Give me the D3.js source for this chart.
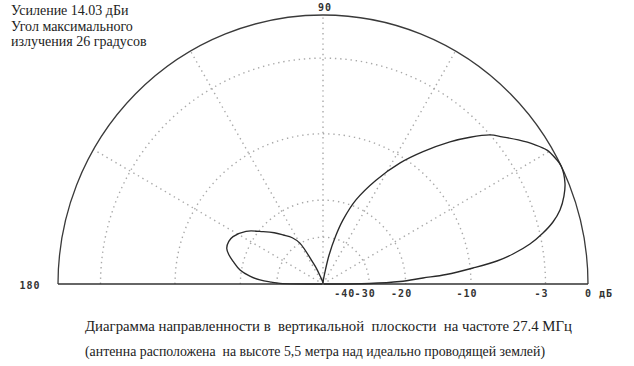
<!DOCTYPE html>
<html>
<head>
<meta charset="utf-8">
<script src="https://cdn.jsdelivr.net/npm/d3@7/dist/d3.min.js"></script>
<style>
  html, body { margin: 0; padding: 0; background: #fff; }
  svg { display: block; }
  .ser { font-family: "Liberation Serif", "Times New Roman", serif; fill: #222; white-space: pre; }
  .mono { font-family: "DejaVu Sans Mono", monospace; font-weight: bold; fill: #333; }
</style>
</head>
<body>
<svg id="chart" width="634" height="366"></svg>
<script>
// ---------- data ----------
// elevation angle, degrees
const angles = [0, 0.6, 1.83, 3.38, 4.35, 6.0, 7.42, 8.84, 10.78, 12.86, 14.87, 17.1, 19.78, 22.35, 26, 28, 30.5, 33, 36, 39, 41.3, 44.5, 47.8, 52.5, 57.1, 62.6, 68.3, 72.4, 75, 78, 80, 84,
                90,
                100, 110, 113, 115.4, 119.8, 124, 129.4, 134, 139.2, 146, 152.6, 156, 159.9, 163, 166.2, 170.6, 174, 176.4, 178, 179.1, 180];
// relative gain, dB
const gainDb = [-99, -30, -21.2, -16.7, -13.1, -9.67, -7.08, -5.51, -3.94, -2.76, -1.85, -1.14, -0.59, -0.22, 0, -0.1, -0.33, -0.85, -1.6, -2.4, -3.0, -4.3, -5.8, -8.2, -10.7, -14.3, -18.7, -23.8, -29, -38, -50, -70,
                -99,
                -80, -60, -48, -42, -30, -27, -24.8, -22.8, -20.8, -18, -16.5, -16.2, -16.3, -17.0, -18.1, -19.7, -22, -24.6, -28, -31.2, -99];

const ringDb = [-3, -10, -20, -30];
const spokeAngles = [30, 60, 90, 120, 150];
const tickValues = [-40, -30, -20, -10, -3, 0];
const tickLabels = ["-40", "-30", "-20", "-10", "-3", "0 дБ"];
const angleLabels = ["90", "180"];
const infoLines = ["Усиление 14.03 дБи", "Угол максимального", "излучения 26 градусов"];
const captionLines = ["Диаграмма направленности в  вертикальной  плоскости  на частоте 27.4 МГц",
                      "(антенна расположена  на высоте 5,5 метра над идеально проводящей землей)"];

// ---------- layout ----------
const cx = 323, cy = 284, rx = 265, ry = 269;
// ARRL log-periodic radial scale: r ~ (power ratio)^0.253
const expo = -Math.log(0.89) / 2 * 10 / Math.LN10;
const rScale = d3.scalePow().exponent(expo).domain([0, 1]).range([0, 1]);
const rad = db => rScale(Math.pow(10, db / 10));
const toXY = (a, db) => {
  const r = rad(db), t = a * Math.PI / 180;
  return [cx + rx * r * Math.cos(t), cy - ry * r * Math.sin(t)];
};

const svg = d3.select("#chart");
svg.append("rect").attr("width", 634).attr("height", 366).attr("fill", "#fff");

const gridColor = "#a9a9a9", gridDash = "1.4 3.8";

// grid rings (dotted)
svg.append("g").selectAll("path").data(ringDb).join("path")
  .attr("d", v => {
    const r = rad(v);
    return `M${cx - rx * r},${cy} A${rx * r},${ry * r} 0 0 1 ${cx + rx * r},${cy}`;
  })
  .attr("fill", "none").attr("stroke", gridColor).attr("stroke-width", 1.4)
  .attr("stroke-dasharray", gridDash);

// spokes (dotted)
svg.append("g").selectAll("line").data(spokeAngles).join("line")
  .attr("x1", cx).attr("y1", cy)
  .attr("x2", a => toXY(a, 0)[0]).attr("y2", a => toXY(a, 0)[1])
  .attr("stroke", gridColor).attr("stroke-width", 1.4)
  .attr("stroke-dasharray", gridDash);

// outer arc and baseline
svg.append("path")
  .attr("d", `M${cx - rx},${cy} A${rx},${ry} 0 0 1 ${cx + rx},${cy}`)
  .attr("fill", "none").attr("stroke", "#3a3a3a").attr("stroke-width", 1.3);
svg.append("line")
  .attr("x1", cx - rx).attr("x2", cx + rx).attr("y1", cy).attr("y2", cy)
  .attr("stroke", "#333").attr("stroke-width", 1.5);

// pattern
const pts = angles.map((a, i) => toXY(a, gainDb[i]));
svg.append("path")
  .attr("d", d3.line().curve(d3.curveCatmullRom.alpha(0.5))(pts))
  .attr("fill", "none").attr("stroke", "#2a2a2a").attr("stroke-width", 1.35);

// scale labels
svg.append("g").selectAll("text").data(tickValues).join("text")
  .attr("class", "mono")
  .attr("x", (v, i) => i === tickValues.length - 1 ? toXY(0, v)[0] - 3 : toXY(0, v)[0] - 4)
  .attr("y", 297)
  .attr("text-anchor", (v, i) => i === tickValues.length - 1 ? "start" : "middle")
  .attr("font-size", 10).attr("letter-spacing", 1)
  .text((v, i) => tickLabels[i]);

svg.append("text").attr("class", "mono").attr("x", 325).attr("y", 11)
  .attr("text-anchor", "middle").attr("font-size", 10).attr("letter-spacing", 1).text(angleLabels[0]);
svg.append("text").attr("class", "mono").attr("x", 30).attr("y", 289)
  .attr("text-anchor", "middle").attr("font-size", 10).attr("letter-spacing", 1).text(angleLabels[1]);

// info text
const infoY = [15, 31, 46];
svg.append("g").selectAll("text").data(infoLines).join("text")
  .attr("class", "ser").attr("x", 11).attr("y", (d, i) => infoY[i])
  .attr("font-size", 14).text(d => d);

// caption
const capY = [331, 356];
const capW = [487, 460];
svg.append("g").selectAll("text").data(captionLines).join("text")
  .attr("class", "ser").attr("x", 85).attr("y", (d, i) => capY[i])
  .attr("font-size", 14)
  .attr("textLength", (d, i) => capW[i]).attr("lengthAdjust", "spacingAndGlyphs")
  .text(d => d);
</script>
</body>
</html>
